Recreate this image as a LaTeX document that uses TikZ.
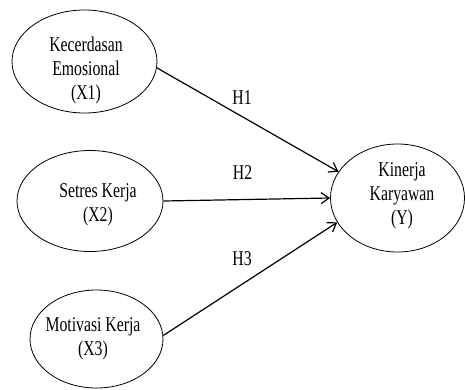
\documentclass[tikz,border=0pt]{standalone}
\usepackage{fontspec}
\setmainfont{Liberation Serif}
\usepackage{graphicx}
\usetikzlibrary{positioning}
\usetikzlibrary{shapes.geometric}
\usetikzlibrary{arrows.meta}

\newcommand{\elltext}[1]{\scalebox{0.75}[1]{\begin{tabular}{@{}c@{}}#1\end{tabular}}}

\tikzset{
	var/.style={draw, ellipse, inner sep=0pt, line width=0.8pt},
	vartext/.style={inner sep=0pt, font=\fontsize{21}{24}\selectfont},
	hyp/.style={line width=1.2pt, -{Straight Barb[length=8pt,width=11pt]}}
}

\begin{document}
\begin{tikzpicture}[x=1pt,y=-1pt]
	\useasboundingbox (0,0) rectangle (465,389);
	% variables
	\node[var, minimum width=145, minimum height=103] (x1) at (84.5,61.5) {};
	\node[var, minimum width=146, minimum height=101] (x2) at (90,201) {};
	\node[var, minimum width=133, minimum height=98] (x3) at (96.5,339) {};
	\node[var, minimum width=134, minimum height=108] (y) at (397.5,198) {};
	\node[vartext] (x1t) at (86,71) {\elltext{Kecerdasan\\Emosional\\(X1)}};
	\node[vartext] (x2t) at (98,205) {\elltext{Setres Kerja\\(X2)}};
	\node[vartext] (x3t) at (93,339) {\elltext{Motivasi Kerja\\(X3)}};
	\node[vartext] (yt) at (402,195.5) {\elltext{Kinerja\\Karyawan\\(Y)}};
	% hypotheses
	\draw[hyp] (x1.-5) -- (y.156);
	\draw[hyp] (x2.east) -- (y.west);
	\draw[hyp] (x3.3) -- (y.202);
	\node[vartext] (h1) at (242,100) {\elltext{H1}};
	\node[vartext] (h2) at (242.5,175) {\elltext{H2}};
	\node[vartext] (h3) at (242,261) {\elltext{H3}};
\end{tikzpicture}
\end{document}
